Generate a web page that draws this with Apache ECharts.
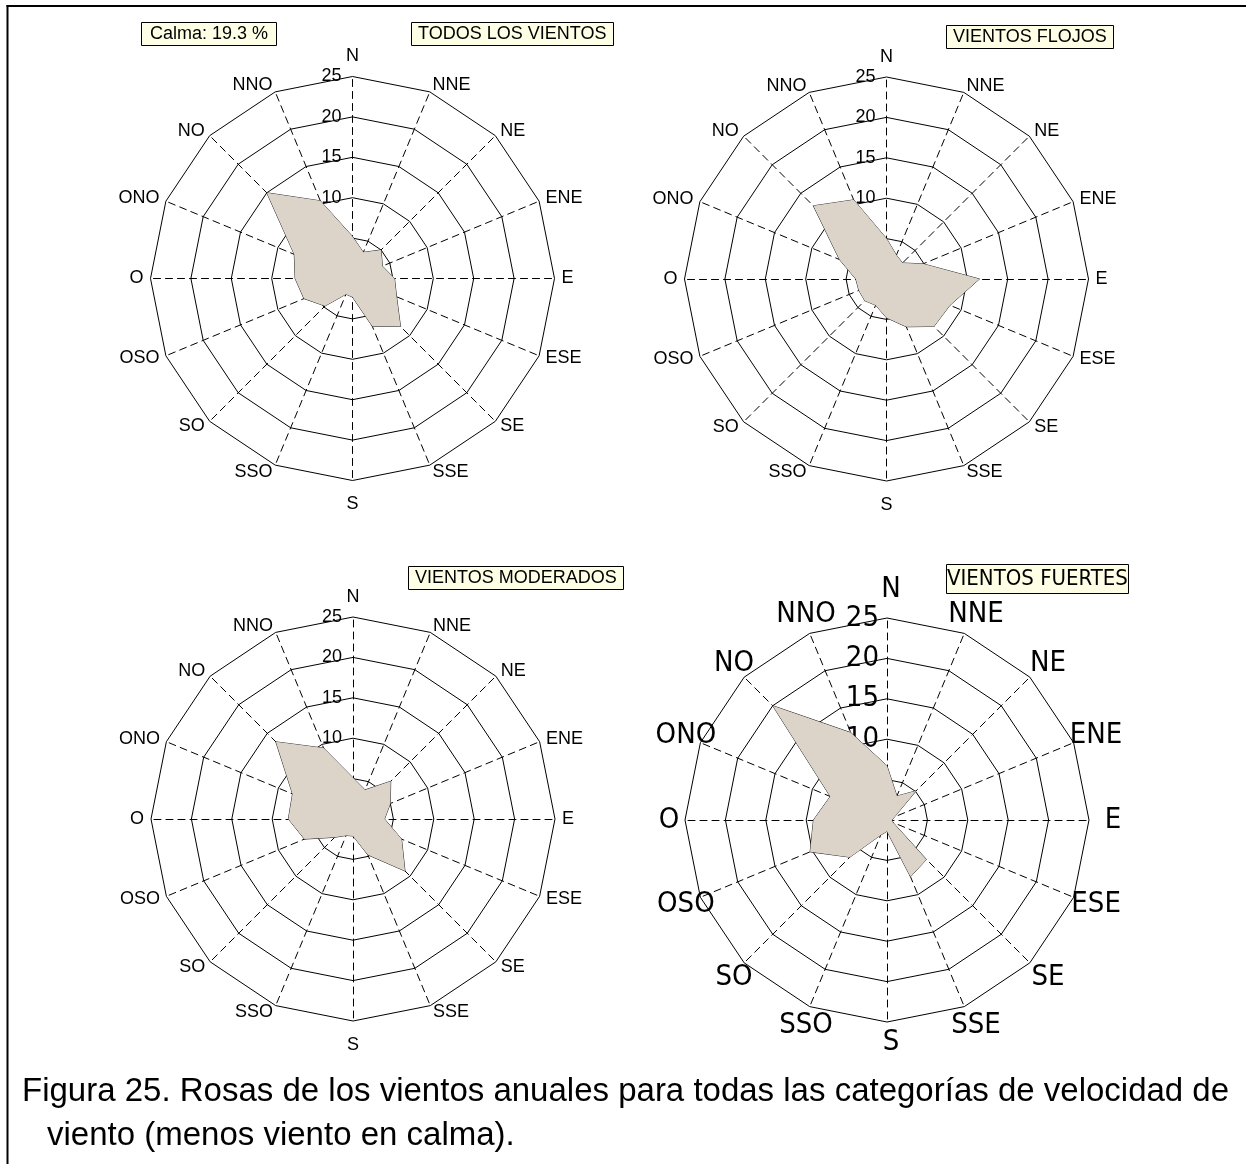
<!DOCTYPE html>
<html>
<head>
<meta charset="utf-8">
<script src="https://cdn.jsdelivr.net/npm/echarts@6/dist/echarts.min.js"></script>
<style>
  html, body { margin: 0; padding: 0; background: #ffffff; }
  #chart { width: 1246px; height: 1164px; }
</style>
</head>
<body>
<div id="chart"></div>
<script>
// Compass sectors, listed clockwise from north
const directions = ['N', 'NNE', 'NE', 'ENE', 'E', 'ESE', 'SE', 'SSE', 'S', 'SSO', 'SO', 'OSO', 'O', 'ONO', 'NO', 'NNO'];
// Frequency rings (%)
const ringTicks = [0, 5, 10, 15, 20, 25];

// Frequency (%) per sector, same order as `directions`
const todosLosVientos = [5.2, 3.5, 5.0, 4.0, 5.2, 5.9, 8.4, 6.4, 2.3, 2.1, 4.8, 6.5, 7.1, 7.8, 15.0, 10.4];
const vientosFlojos = [5.0, 3.2, 2.8, 4.9, 11.5, 8.5, 8.3, 6.4, 4.8, 3.5, 3.8, 3.7, 3.8, 6.3, 12.8, 10.6];
const vientosModerados = [5.1, 3.9, 6.6, 5.0, 3.9, 6.5, 9.1, 4.8, 2.1, 2.2, 3.2, 6.5, 8.0, 8.1, 13.5, 9.5];
const vientosFuertes = [6.7, 3.2, 5.1, 1.0, 0.6, 0.8, 6.9, 7.6, 1.4, 2.0, 6.5, 10.3, 9.1, 7.6, 20.0, 11.7];
const calmaPct = 19.3;

const panelTitles = ['TODOS LOS VIENTOS', 'VIENTOS FLOJOS', 'VIENTOS MODERADOS', 'VIENTOS FUERTES'];
const captionLines = [
  'Figura 25. Rosas de los vientos anuales para todas las categorías de velocidad de',
  'viento (menos viento en calma).'
];

const SANS = '"Liberation Sans", Arial, sans-serif';
const NARROW = '"Liberation Sans Narrow", "DejaVu Sans Condensed", "Arial Narrow", sans-serif';

// ECharts lays radar indicators out counter-clockwise, so walk the
// compass backwards (N, NNO, NO, ...) to get a clockwise rose.
const radarOrder = directions.map((_, i) => (16 - i) % 16);
const toRadar = arr => radarOrder.map(k => arr[k]);

const maxRing = ringTicks[ringTicks.length - 1];

function makeRadar(center, big) {
  return {
    center: center,
    radius: 202,
    startAngle: 90,
    shape: 'polygon',
    splitNumber: ringTicks.length - 1,
    nameGap: big ? 20 : 7,
    axisName: big
      ? { color: '#000', fontSize: 29, fontFamily: NARROW, align: 'center', verticalAlign: 'middle', padding: [12, 0, 0, 8] }
      : { color: '#000', fontSize: 18, fontFamily: SANS },
    indicator: radarOrder.map(k => {
      const ind = { name: directions[k], min: ringTicks[0], max: maxRing };
      if (k === 0) {
        ind.axisLabel = { show: true };
        if (!big) ind.nameGap = 11;
      }
      if (k === 8 && !big) ind.nameGap = 15;
      return ind;
    }),
    axisLine: { lineStyle: { color: '#000', width: 1, type: [7, 5] } },
    splitLine: { lineStyle: { color: '#000', width: 1 } },
    splitArea: { show: false },
    axisTick: { show: false },
    axisLabel: {
      show: false,
      color: '#000',
      fontSize: big ? 29 : 18,
      fontFamily: big ? NARROW : SANS,
      margin: big ? 8 : 11,
      formatter: v => String(ringTicks[Math.round(v / 5)] ?? v)
    }
  };
}

const boxStyle = (size, family) => ({
  backgroundColor: '#FFFFE6',
  borderColor: '#000',
  borderWidth: 1,
  padding: [3, 5],
  textStyle: { fontSize: size, fontWeight: 'normal', color: '#000', fontFamily: family, lineHeight: size }
});

const panels = [
  { center: [352.5, 278.5], data: todosLosVientos, big: false },
  { center: [886.5, 279], data: vientosFlojos, big: false },
  { center: [353, 819], data: vientosModerados, big: false },
  { center: [887, 820], data: vientosFuertes, big: true }
];

const option = {
  animation: false,
  backgroundColor: '#ffffff',
  title: [
    Object.assign({ text: 'Calma: ' + calmaPct + ' %', left: 141, top: 22 }, boxStyle(18, SANS), { padding: [3, 9] }),
    Object.assign({ text: panelTitles[0], left: 411, top: 22 }, boxStyle(18, SANS), { padding: [3, 7] }),
    Object.assign({ text: panelTitles[1], left: 946, top: 25 }, boxStyle(18, SANS), { padding: [3, 7] }),
    Object.assign({ text: panelTitles[2], left: 408, top: 566 }, boxStyle(18, SANS), { padding: [3, 7] }),
    Object.assign({ text: panelTitles[3], left: 946, top: 564 }, boxStyle(22, NARROW), { padding: [4, 1] })
  ],
  radar: panels.map(p => makeRadar(p.center, p.big)),
  series: panels.map((p, i) => ({
    type: 'radar',
    radarIndex: i,
    symbol: 'none',
    silent: true,
    lineStyle: { color: '#222', width: 1 },
    areaStyle: { color: '#DCD4C9', opacity: 1 },
    data: [{ value: toRadar(p.data), name: panelTitles[i] }]
  })),
  graphic: [
    { type: 'line', shape: { x1: 7.5, y1: 5, x2: 7.5, y2: 1164 }, style: { stroke: '#000', lineWidth: 2 } },
    { type: 'line', shape: { x1: 6.5, y1: 6, x2: 1246, y2: 6 }, style: { stroke: '#000', lineWidth: 2 } },
    { type: 'text', left: 22, top: 1075, style: { text: captionLines[0], fontSize: 33, fontFamily: SANS, fill: '#000' } },
    { type: 'text', left: 47, top: 1119, style: { text: captionLines[1], fontSize: 33, fontFamily: SANS, fill: '#000' } }
  ]
};

const chart = echarts.init(document.getElementById('chart'), null, { renderer: 'canvas' });
chart.setOption(option);
</script>
</body>
</html>
